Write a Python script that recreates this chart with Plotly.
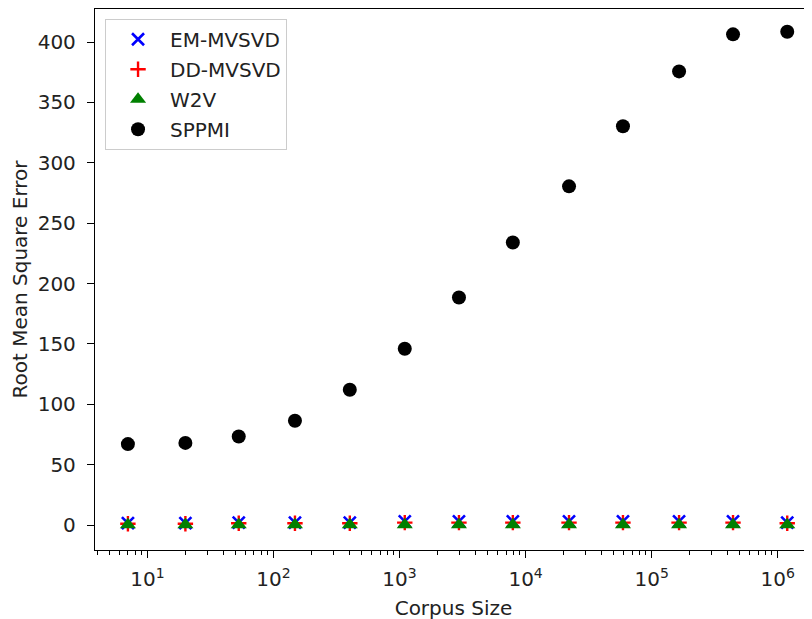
import plotly.graph_objects as go

corpus_size = [7, 20, 53, 148, 403, 1100, 2960, 7920, 22100, 59200, 165000, 442000, 1190000]
em_mvsvd = [1.5, 1.5, 2.0, 2.0, 2.0, 3.0, 3.0, 3.0, 3.0, 3.0, 3.0, 3.0, 2.0]
dd_mvsvd = [1.0, 1.0, 1.5, 1.5, 1.5, 2.0, 2.0, 2.0, 2.0, 2.0, 2.0, 2.0, 1.5]
w2v = [0.2, 0.2, 0.2, 0.2, 0.2, 0.2, 0.2, 0.2, 0.2, 0.2, 0.2, 0.2, 0.2]
sppmi = [67.0, 68.0, 73.3, 86.3, 112.0, 146.0, 188.4, 234.0, 280.5, 330.3, 375.7, 406.4, 408.5]

y_ticks = [0, 50, 100, 150, 200, 250, 300, 350, 400]
x_tickvals = [10, 100, 1000, 10000, 100000, 1000000]
x_ticktext = ["10<sup>1</sup>", "10<sup>2</sup>", "10<sup>3</sup>", "10<sup>4</sup>", "10<sup>5</sup>", "10<sup>6</sup>"]

FONT = "DejaVu Sans"
TXT = "#222222"
FS = 20

fig = go.Figure()
fig.add_trace(go.Scatter(
    x=corpus_size, y=em_mvsvd, mode="markers", name="EM-MVSVD", legendgroup="a",
    marker=dict(symbol="x-thin", size=12, color="blue", line=dict(color="blue", width=2.6)),
))
fig.add_trace(go.Scatter(
    x=corpus_size, y=dd_mvsvd, mode="markers", name="DD-MVSVD", legendgroup="b",
    marker=dict(symbol="cross-thin", size=11, color="red", line=dict(color="red", width=2.4)),
))
fig.add_trace(go.Scatter(
    x=corpus_size, y=w2v, mode="markers", name="W2V", legendgroup="c",
    marker=dict(symbol="triangle-up", size=14, color="green", line=dict(width=0)),
))
fig.add_trace(go.Scatter(
    x=corpus_size, y=sppmi, mode="markers", name="SPPMI", legendgroup="d",
    marker=dict(symbol="circle", size=14, color="black", line=dict(width=0)),
))

# The page body adds an 8px offset; sizes and margins compensate for it.
fig.update_layout(
    width=804, height=612,
    margin=dict(l=87, r=0, t=1, b=70),
    plot_bgcolor="white", paper_bgcolor="white",
    font=dict(family=FONT, size=FS, color=TXT),
    showlegend=True,
    legend=dict(
        x=0.014, y=0.982, xanchor="left", yanchor="top",
        bgcolor="white", bordercolor="#cccccc", borderwidth=1,
        font=dict(family=FONT, size=FS, color=TXT),
        traceorder="grouped", tracegroupgap=1, itemwidth=54,
    ),
)
fig.update_xaxes(
    type="log", range=[0.584, 6.272], automargin=False,
    tickvals=x_tickvals, ticktext=x_ticktext,
    ticks="outside", ticklen=7, tickwidth=1.3, tickcolor="black",
    ticklabelstandoff=4,
    showline=True, linecolor="black", linewidth=1.3, mirror=True,
    showgrid=False, zeroline=False,
    minor=dict(ticks="outside", ticklen=4, tickwidth=1, tickcolor="black", dtick="D1", showgrid=False),
    title=dict(text="Corpus Size", font=dict(family=FONT, size=FS, color=TXT), standoff=10),
    tickfont=dict(family=FONT, size=FS, color=TXT),
)
fig.update_yaxes(
    range=[-20.7, 427.4], automargin=False,
    tickvals=y_ticks,
    ticks="outside", ticklen=7, tickwidth=1.3, tickcolor="black",
    ticklabelstandoff=7,
    showline=True, linecolor="black", linewidth=1.3,
    showgrid=False, zeroline=False,
    title=dict(text="Root Mean Square Error", font=dict(family=FONT, size=FS, color=TXT), standoff=10),
    tickfont=dict(family=FONT, size=FS, color=TXT),
)

fig.write_html("out.html")
